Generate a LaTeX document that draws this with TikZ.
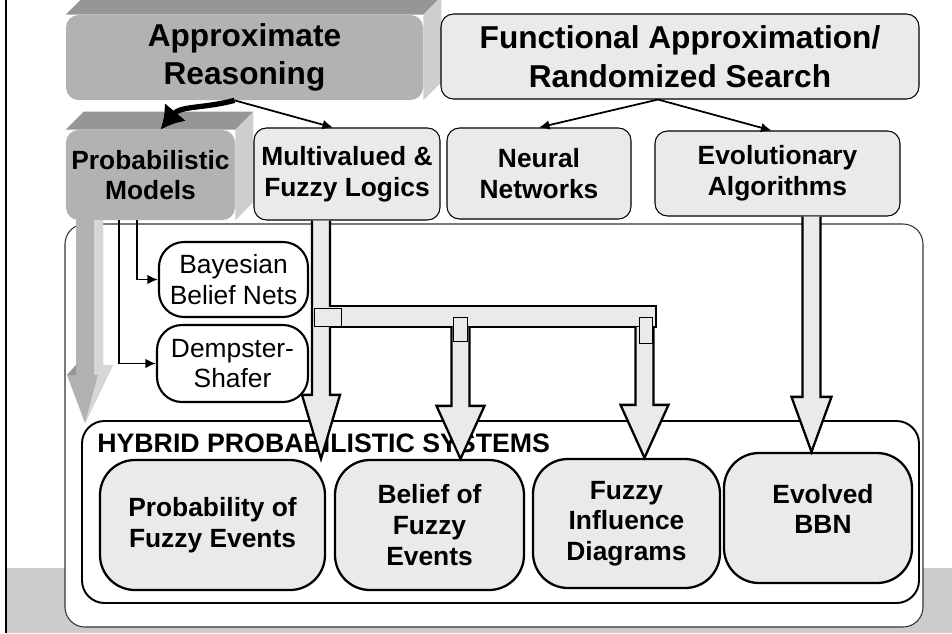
\documentclass[tikz,border=0pt]{standalone}
\usepackage{fontspec}
\setmainfont{Liberation Sans}
\usetikzlibrary{arrows.meta}
\usetikzlibrary{calc}
\usetikzlibrary{backgrounds}

\definecolor{boxgrey}{RGB}{234,234,234}
\definecolor{frontgrey}{RGB}{178,178,178}
\definecolor{topgrey}{RGB}{150,150,150}
\definecolor{sidegrey}{RGB}{206,206,206}
\definecolor{bandgrey}{RGB}{204,204,204}
\definecolor{lightarrow}{RGB}{214,214,214}

\tikzset{
    >={Latex[length=6pt,width=5.5pt]},
    bigfont/.style={font=\fontsize{18}{22}\selectfont\bfseries},
    midfont/.style={font=\fontsize{15}{17.5}\selectfont\bfseries},
    solidbox/.style={rectangle,rounded corners=0.25cm,fill=frontgrey,align=center,inner sep=0pt},
    lightbox/.style={rectangle,rounded corners=0.25cm,draw,line width=0.6pt,fill=boxgrey,align=center,inner sep=0pt},
    methodbox/.style={rectangle,rounded corners=0.5cm,draw,line width=1.2pt,fill=white,align=center,inner sep=0pt,font=\fontsize{15}{17.5}\selectfont},
    resultbox/.style={rectangle,rounded corners=0.7cm,draw,line width=1.3pt,fill=boxgrey,align=center,inner sep=0pt,midfont},
    blockarrow/.style={draw,line width=1.3pt,fill=boxgrey},
    joint/.style={draw,line width=0.5pt,fill=boxgrey},
    link/.style={->,line width=1pt},
}

% block arrow pointing down: top, tip, head length, head half width
\newcommand{\blockdown}[4]{%
    \draw[blockarrow] let \p1=(#1), \p2=(#2) in
        (\x1-0.18cm,\y1) -- (\x1-0.18cm,\y2+#3) -- (\x1-#4,\y2+#3) -- (\x1,\y2)
        -- (\x1+#4,\y2+#3) -- (\x1+0.18cm,\y2+#3) -- (\x1+0.18cm,\y1);
}

\begin{document}
\begin{tikzpicture}
        \useasboundingbox (0,0) rectangle (19.04,-12.66);
        \fill[bandgrey] (0.12,-11.36) rectangle (19.04,-12.66);
        \draw[line width=1.1pt] (0.12,0) -- (0.12,-12.66);

        % frames
        \node[rectangle,rounded corners=0.4cm,draw=black!80,line width=0.6pt,fill=white,minimum width=17.16cm,minimum height=8.06cm] (frame) at (9.88,-8.51) {};
        \node[rectangle,rounded corners=0.45cm,draw,line width=1.1pt,minimum width=16.74cm,minimum height=3.64cm] (hybrid) at (10.01,-10.24) {};
        \node[anchor=west,inner sep=0pt,font=\fontsize{15.2}{17}\selectfont\bfseries] (hybrid_title) at (1.94,-8.86) {HYBRID PROBABILISTIC SYSTEMS};

        % results
        \node[resultbox,minimum width=4.50cm,minimum height=2.60cm] (pfe) at (4.25,-10.50) {Probability of\\Fuzzy Events};
        \node[resultbox,minimum width=3.78cm,minimum height=2.60cm] (bfe) at (8.59,-10.50) {Belief of\\Fuzzy\\Events};
        \node[resultbox,minimum width=3.74cm,minimum height=2.58cm] (fid) at (12.53,-10.47) {Fuzzy\\Influence\\Diagrams};
        \node[resultbox,minimum width=3.76cm,minimum height=2.60cm] (ebbn) at (16.36,-10.36) {};
        \node[midfont,align=center] (ebbn_text) at (16.46,-10.18) {Evolved\\BBN};

        % sources
        \node[solidbox,bigfont,minimum width=7.14cm,minimum height=1.70cm] (reason) at (4.89,-1.15) {Approximate\\Reasoning};
        \node[solidbox,midfont,minimum width=3.38cm,minimum height=1.80cm] (prob) at (3.01,-3.50) {Probabilistic\\Models};
        \begin{scope}[on background layer]
            \fill[topgrey] (reason.north west) -- ++(0.36,0.36) -- ([shift={(0.36,0.36)}]reason.north east) -- (reason.north east) -- cycle;
            \fill[sidegrey] (reason.north east) -- ++(0.36,0.36) -- ([shift={(0.36,0.36)}]reason.south east) -- (reason.south east) -- cycle;
            \fill[topgrey] (prob.north west) -- ++(0.36,0.36) -- ([shift={(0.36,0.36)}]prob.north east) -- (prob.north east) -- cycle;
            \fill[sidegrey] (prob.north east) -- ++(0.36,0.36) -- ([shift={(0.36,0.36)}]prob.south east) -- (prob.south east) -- cycle;
        \end{scope}

        \node[lightbox,bigfont,minimum width=9.56cm,minimum height=1.70cm] (search) at (13.60,-1.13) {Functional Approximation/\\Randomized Search};
        \node[lightbox,midfont,minimum width=3.72cm,minimum height=1.84cm] (fuzzy) at (6.94,-3.48) {Multivalued \&\\Fuzzy Logics};
        \node[lightbox,midfont,minimum width=3.68cm,minimum height=1.82cm] (neural) at (10.78,-3.47) {Neural\\Networks};
        \node[lightbox,midfont,minimum width=4.90cm,minimum height=1.70cm] (evol) at (15.55,-3.47) {Evolutionary\\Algorithms};

        \node[methodbox,minimum width=2.98cm,minimum height=1.50cm] (bayes) at (4.67,-5.59) {Bayesian\\Belief Nets};
        \node[methodbox,minimum width=3.02cm,minimum height=1.54cm] (dempster) at (4.65,-7.27) {Dempster-\\Shafer};

        % links
        \draw[-{Latex[length=13pt,width=16pt]},line width=3pt] ([xshift=-0.2cm]reason.south) to[out=195,in=50] ([xshift=0.2cm]prob.north);
        \draw[link] ([xshift=-0.2cm]reason.south) -- ([xshift=-0.28cm]fuzzy.north);
        \draw[link] ([xshift=-0.44cm]search.south) -- (neural.north);
        \draw[link] ([xshift=-0.44cm]search.south) -- ([xshift=-0.12cm]evol.north);
        \draw[link,line width=1.1pt] ([xshift=-0.27cm]prob.south) |- (bayes.west);
        \draw[link,line width=1.1pt] ([xshift=-0.63cm]prob.south) |- (dempster.west);

        % grey arrow
        \fill[frontgrey] (1.52,-4.40) -- (1.52,-7.30) -- (1.34,-7.50) -- (1.70,-8.46) -- (2.26,-7.30) -- (2.06,-7.30) -- (2.06,-4.40) -- cycle;
        \fill[lightarrow] (1.88,-4.40) -- (2.06,-4.40) -- (2.06,-7.30) -- (2.26,-7.30) -- (1.70,-8.46) -- (1.96,-7.50) -- (1.88,-7.50) -- cycle;
        \fill[topgrey] (1.34,-7.50) -- (1.52,-7.30) -- (1.52,-7.50) -- cycle;

        % block arrows
        \coordinate (fuzzy_out) at ([xshift=-0.52cm]fuzzy.south);
        \coordinate (evol_out) at ([xshift=0.68cm]evol.south);
        \coordinate (bus_b) at (9.21,-6.54);
        \coordinate (bus_c) at (12.89,-6.54);
        \blockdown{fuzzy_out}{fuzzy_out |- pfe.north}{1.28cm}{0.38cm}
        \draw[blockarrow] (6.58,-6.12) -- (13.12,-6.12) -- (13.12,-6.54) -- (6.58,-6.54);
        \blockdown{bus_b}{bus_b |- bfe.north}{1.06cm}{0.48cm}
        \blockdown{bus_c}{bus_c |- fid.north}{1.06cm}{0.48cm}
        \blockdown{evol_out}{evol_out |- ebbn.north}{1.10cm}{0.40cm}
        \draw[joint] (6.28,-6.16) rectangle (6.82,-6.52);
        \draw[joint] (9.06,-6.34) rectangle (9.34,-6.82);
        \draw[joint] (12.78,-6.34) rectangle (13.04,-6.86);

\end{tikzpicture}
\end{document}
